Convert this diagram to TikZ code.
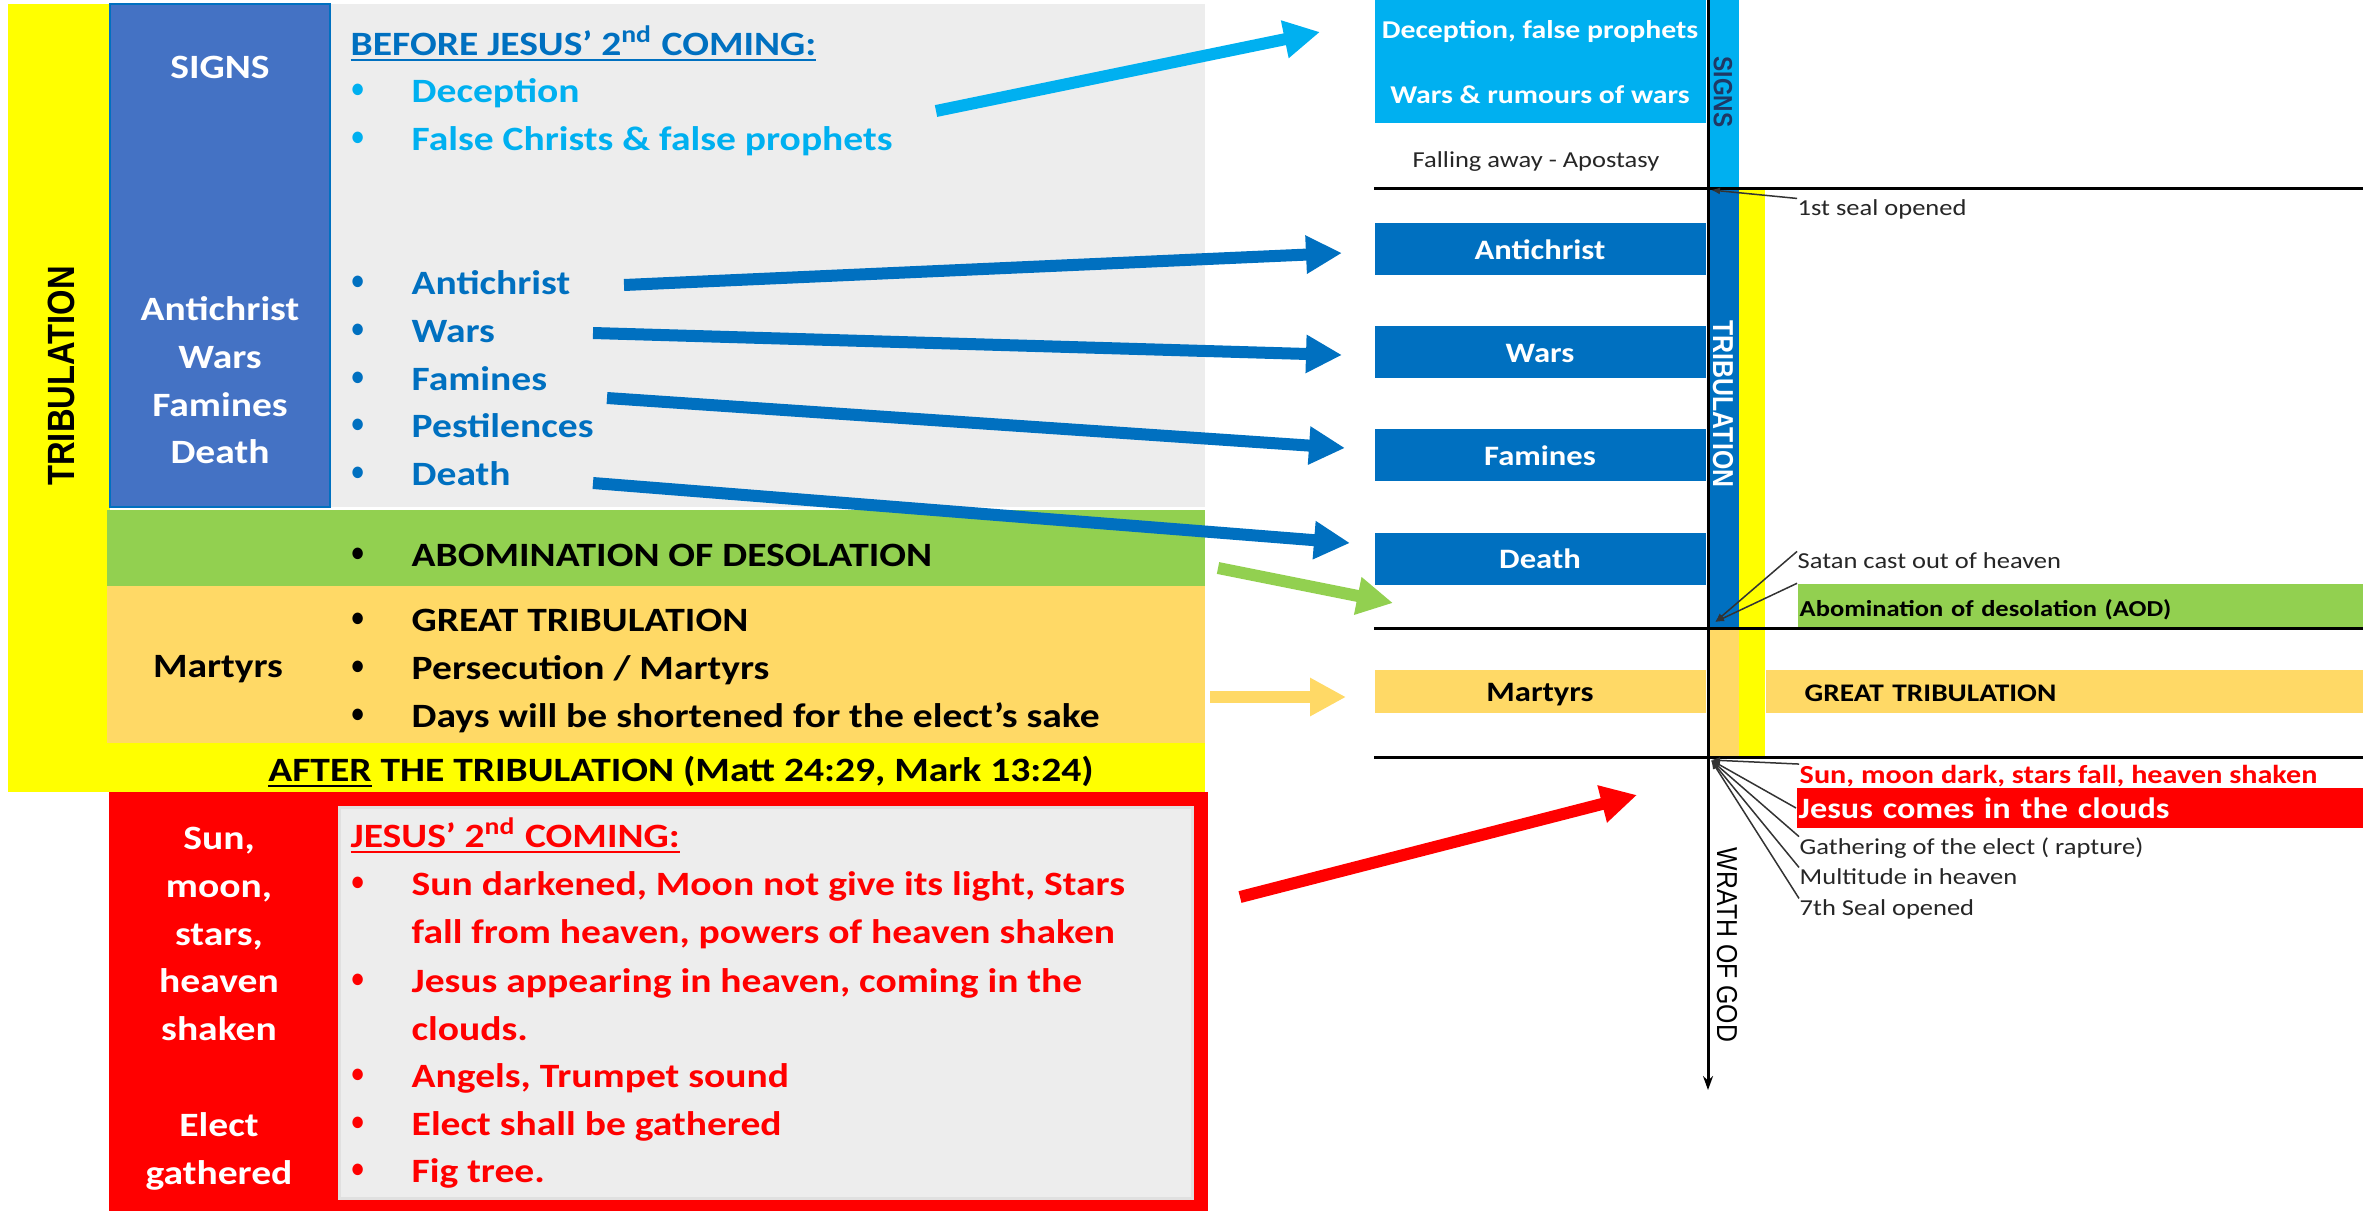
\documentclass[tikz,border=0pt]{standalone}
\usepackage{fontspec}
\usepackage{graphicx}
\setmainfont{Carlito}[FakeStretch=1.16]
\newfontfamily\rotfont{Liberation Sans}[FakeStretch=0.862]
\usetikzlibrary{arrows.meta, positioning, calc}
\definecolor{tribyellow}{HTML}{FFFF00}
\definecolor{signblue}{HTML}{4472C4}
\definecolor{panelgrey}{HTML}{EDEDED}
\definecolor{aodgreen}{HTML}{92D050}
\definecolor{gtorange}{HTML}{FFD966}
\definecolor{comered}{HTML}{FF0000}
\definecolor{warblue}{HTML}{0070C0}
\definecolor{signcyan}{HTML}{00B0F0}
\definecolor{signnavy}{HTML}{1F3864}
\newcommand{\bulitem}{\makebox[6.4mm][l]{\hspace{0.4mm}\raisebox{0.25ex}{\scalebox{0.62}[0.8]{\textbullet}}}}

\begin{document}
\begin{tikzpicture}[x=0.1mm, y=-0.1mm,
            big/.style={font=\fontsize{9.7}{11}\selectfont\bfseries, inner sep=0pt},
            item/.style={big, anchor=base west},
            side/.style={big, anchor=base},
            chart/.style={font=\fontsize{8}{9}\selectfont\bfseries, text=white, fill=warblue,
                minimum width=33.1mm, minimum height=5.2mm, inner sep=0pt, text height=2mm, text depth=0pt},
            rlabel/.style={font=\fontsize{7.3}{8}\selectfont\bfseries, text=white, inner sep=0pt, anchor=base},
            bar/.style={anchor=west, inner xsep=0.2mm, inner ysep=0pt, text height=2mm, text depth=0pt, align=left},
            note/.style={font=\fontsize{6.5}{7.5}\selectfont, text=black!85, inner sep=0pt, anchor=base west},
            upright/.style={inner sep=0pt},
            bigarrow/.style={line width=1.2mm, -{Triangle[length=3.6mm, width=3.6mm]}},
            leader/.style={line width=0.15mm, black!80, {Latex[length=0.9mm, width=0.7mm]}-},
            axis/.style={line width=0.3mm, black}]
            \useasboundingbox (0,0) rectangle (2363,1211);

            \fill[tribyellow] (8,4) rectangle (110,792);
            \fill[tribyellow] (8,743) rectangle (1205,792);
            \fill[panelgrey] (330,4) rectangle (1205,507);
            \filldraw[fill=signblue, draw=warblue, line width=0.25mm] (110,4) rectangle (330,507);
            \fill[aodgreen] (107,510) rectangle (1205,586);
            \fill[gtorange] (107,586) rectangle (1205,743);
            \fill[comered] (109,792) rectangle (1208,1211);
            \filldraw[fill=panelgrey, draw=white!88!black, line width=0.3mm] (339,807) rectangle (1192,1198);

            \draw (61,376) node[upright, rotate=90, font=\rotfont\fontsize{10.8}{12}\selectfont\bfseries] (tribulation) {TRIBULATION};
            \draw (220,78) node[side, text=white] (signs) {SIGNS};
            \draw (220,320) node[side, text=white] (sideantichrist) {Antichrist};
            \draw (220,368) node[side, text=white] (sidewars) {Wars};
            \draw (220,416) node[side, text=white] (sidefamines) {Famines};
            \draw (220,463) node[side, text=white] (sidedeath) {Death};
            \draw (218,677) node[side] (sidemartyrs) {Martyrs};
            \draw (219,849) node[side, text=white] (sidesun) {Sun,};
            \draw (219,897) node[side, text=white] (sidemoon) {moon,};
            \draw (219,945) node[side, text=white] (sidestars) {stars,};
            \draw (219,992) node[side, text=white] (sideheaven) {heaven};
            \draw (219,1040) node[side, text=white] (sideshaken) {shaken};
            \draw (219,1136) node[side, text=white] (sideelect) {Elect};
            \draw (219,1184) node[side, text=white] (sidegathered) {gathered};

            \draw (350,55) node[item, text=warblue] (before) {\underline{BEFORE JESUS’ 2\textsuperscript{nd} COMING:}};
            \draw (347,102) node[item, text=signcyan] (deception) {\bulitem Deception};
            \draw (347,150) node[item, text=signcyan] (falsechrists) {\bulitem False Christs \& false prophets};
            \draw (347,294) node[item, text=warblue] (antichrist) {\bulitem Antichrist};
            \draw (347,342) node[item, text=warblue] (wars) {\bulitem Wars};
            \draw (347,390) node[item, text=warblue] (famines) {\bulitem Famines};
            \draw (347,437) node[item, text=warblue] (pestilences) {\bulitem Pestilences};
            \draw (347,485) node[item, text=warblue] (death) {\bulitem Death};
            \draw (347,566) node[item] (abomination) {\bulitem ABOMINATION OF DESOLATION};
            \draw (347,631) node[item] (great) {\bulitem GREAT TRIBULATION};
            \draw (347,679) node[item] (persecution) {\bulitem Persecution / Martyrs};
            \draw (347,727) node[item] (days) {\bulitem Days will be shortened for the elect’s sake};
            \draw (681,781) node[side] (after) {\underline{AFTER} THE TRIBULATION (Matt 24:29, Mark 13:24)};
            \draw (350,847) node[item, text=comered] (coming) {\underline{JESUS’ 2\textsuperscript{nd} COMING:}};
            \draw (347,895) node[item, text=comered] (sundark) {\bulitem Sun darkened, Moon not give its light, Stars};
            \draw (411,943) node[item, text=comered] (fallheaven) {fall from heaven, powers of heaven shaken};
            \draw (347,992) node[item, text=comered] (appearing) {\bulitem Jesus appearing in heaven, coming in the};
            \draw (411,1040) node[item, text=comered] (clouds) {clouds.};
            \draw (347,1087) node[item, text=comered] (angels) {\bulitem Angels, Trumpet sound};
            \draw (347,1135) node[item, text=comered] (elect) {\bulitem Elect shall be gathered};
            \draw (347,1182) node[item, text=comered] (figtree) {\bulitem Fig tree.};

            \fill[signcyan] (1708,0) rectangle (1739,188);
            \fill[warblue] (1708,188) rectangle (1739,628);
            \fill[gtorange] (1708,628) rectangle (1739,757);
            \fill[tribyellow] (1739,188) rectangle (1765,757);

            \draw (1540,61.5) node[chart, fill=signcyan, minimum height=12.3mm] (rsigns) {};
            \draw (1540,38) node[rlabel] (rdeceive) {Deception, false prophets};
            \draw (1540,103) node[rlabel] (rrumours) {Wars \& rumours of wars};
            \draw (1536,167) node[note, anchor=base] (rfalling) {Falling away - Apostasy};
            \draw (1540,249) node[chart] (rantichrist) {Antichrist};
            \draw (1540,352) node[chart] (rwars) {Wars};
            \draw (1540,455) node[chart] (rfamines) {Famines};
            \draw (1540,558.5) node[chart] (rdeath) {Death};
            \draw (1540,691.5) node[chart, fill=gtorange, text=black, minimum height=4.3mm] (rmartyrs) {Martyrs};
            \draw (1797,606) node[bar, fill=aodgreen, text width=56.2mm, minimum height=4.4mm,
                font=\fontsize{6.5}{7}\selectfont\bfseries] (raod) {Abomination of desolation (AOD)};
            \draw (1765,691.5) node[bar, fill=gtorange, text width=59.4mm, minimum height=4.3mm,
                font=\fontsize{7.2}{8}\selectfont\bfseries] (rgreat) {\hspace*{3.7mm}GREAT TRIBULATION};
            \draw (1796,808) node[bar, fill=comered, text=white, text width=56.3mm, minimum height=4mm,
                font=\fontsize{8.4}{9}\selectfont\bfseries] (rjesus) {Jesus comes in the clouds};
            \draw (1799,783) node[note, text=comered, font=\fontsize{7.4}{8}\selectfont\bfseries] (rsun) {\underline{Sun, moon dark, stars fall, heaven shaken}};
            \draw (1799,854) node[note] (rgather) {Gathering of the elect ( rapture)};
            \draw (1799,884) node[note] (rmulti) {Multitude in heaven};
            \draw (1799,915) node[note] (rseventh) {7th Seal opened};
            \draw (1797,215) node[note] (rfirst) {1st seal opened};
            \draw (1797,568) node[note] (rsatan) {Satan cast out of heaven};

            \draw (1723,92) node[upright, rotate=-90, text=signnavy, font=\rotfont\fontsize{7.5}{8}\selectfont\bfseries] (rsignlabel) {SIGNS};
            \draw (1723,404) node[upright, rotate=-90, text=white, font=\rotfont\fontsize{8.2}{9}\selectfont\bfseries] (rtriblabel) {TRIBULATION};
            \draw (1727,945) node[upright, rotate=-90, font=\rotfont\fontsize{8.2}{9}\selectfont] (rwrath) {WRATH OF GOD};

            \draw[axis] (1374,188) -- (2363,188);
            \draw[axis] (1374,628) -- (2363,628);
            \draw[axis] (1374,757) -- (2363,757);
            \draw[axis, -{Stealth[length=1.4mm, width=1mm]}] (1708,0) -- (1708,1090);

            \coordinate (sealpoint) at (1711,190);
            \coordinate (satanpoint) at (1715,622);
            \coordinate (wrathpoint) at (1711,760);
            \path[leader]
            (sealpoint) edge (rfirst.north west)
            (satanpoint) edge (rsatan.north west)
                         edge (raod.north west)
            (wrathpoint) edge (rsun.north west)
                         edge (rjesus.west)
                         edge (rgather.north west)
                         edge (rmulti.north west)
                         edge (rseventh.north west);

            \coordinate (fromdeceive) at (936,111);
            \coordinate (todeceive) at (1320,32);
            \coordinate (fromantichrist) at (624,285);
            \coordinate (toantichrist) at (1342,253);
            \coordinate (fromwars) at (593,333);
            \coordinate (towars) at (1342,355);
            \coordinate (fromfamines) at (607,398);
            \coordinate (tofamines) at (1345,448);
            \coordinate (fromdeath) at (593,483);
            \coordinate (todeath) at (1350,543);
            \coordinate (fromaod) at (1218,568);
            \coordinate (toaod) at (1393,603);
            \coordinate (frommartyrs) at (1210,697);
            \coordinate (tomartyrs) at (1346,697);
            \coordinate (fromcoming) at (1240,897);
            \coordinate (tocoming) at (1637,795);
            \path[bigarrow]
            (fromdeceive) edge[signcyan] (todeceive)
            (fromantichrist) edge[warblue] (toantichrist)
            (fromwars) edge[warblue] (towars)
            (fromfamines) edge[warblue] (tofamines)
            (fromdeath) edge[warblue] (todeath)
            (fromaod) edge[aodgreen] (toaod)
            (frommartyrs) edge[gtorange] (tomartyrs)
            (fromcoming) edge[comered] (tocoming);
\end{tikzpicture}
\end{document}
